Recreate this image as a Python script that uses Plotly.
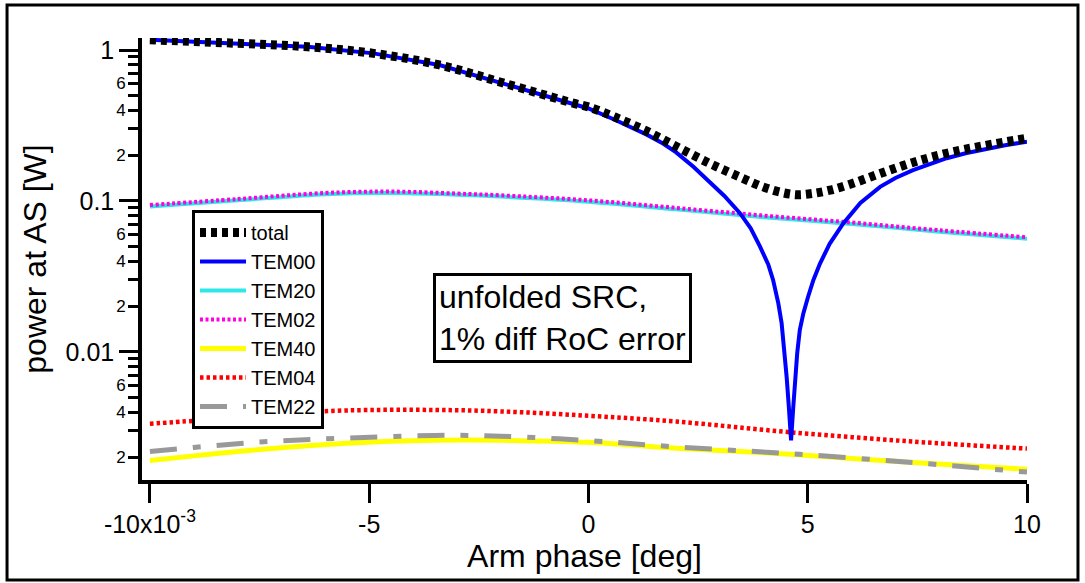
import plotly.graph_objects as go

# ---------------- data ----------------
x_total = [-10, -8, -6.4, -4.9, -3.4, -1.9, -0.35, 0, 0.6, 1.33, 2.1, 2.84, 3.5,
           3.98, 4.4, 4.75, 5.1, 5.51, 6.0, 6.65, 7.4, 8.17, 9.0, 10]
y_total = [1.17, 1.107, 1.05, 0.95, 0.796, 0.60, 0.445, 0.42, 0.36, 0.29, 0.222,
           0.173, 0.142, 0.124, 0.114, 0.110, 0.112, 0.118, 0.13, 0.152, 0.18,
           0.207, 0.232, 0.26]

x_tem00 = [-10, -8, -6.4, -4.9, -3.4, -1.9, -0.35, 0, 0.6, 1.0, 1.33, 1.7, 2.0,
           2.4, 2.69, 3.1, 3.455, 3.7, 3.91, 4.1, 4.21, 4.33, 4.405, 4.47, 4.52,
           4.57, 4.62, 4.67, 4.71, 4.76, 4.82, 4.9, 5.01, 5.13, 5.28, 5.5, 5.81,
           6.2, 6.65, 7.0, 7.4, 7.8, 8.17, 8.6, 9.0, 9.5, 10]
y_tem00 = [1.17, 1.107, 1.05, 0.95, 0.795, 0.595, 0.44, 0.41, 0.345, 0.305, 0.275,
           0.24, 0.21, 0.168, 0.14, 0.108, 0.083, 0.066, 0.05, 0.038, 0.030, 0.021,
           0.0155, 0.0105, 0.0068, 0.0043, 0.0026, 0.0043, 0.0066, 0.0098, 0.014,
           0.018, 0.0233, 0.030, 0.0385, 0.052, 0.071, 0.097, 0.124, 0.142, 0.16,
           0.177, 0.192, 0.207, 0.22, 0.234, 0.247]

x_hom = [-10, -8, -6, -4.5, -3, -2, 0, 2, 4, 6, 8, 10]
y_tem02 = [0.094, 0.103, 0.113, 0.1155, 0.112, 0.109, 0.101, 0.090, 0.080,
           0.072, 0.064, 0.0575]
y_tem20 = [0.092, 0.101, 0.111, 0.113, 0.110, 0.107, 0.099, 0.088, 0.078,
           0.0705, 0.0625, 0.0563]

x_low = [-10, -9, -8, -7, -5.5, -3.5, -2, 0, 2, 4.6, 7.4, 10]
y_tem04 = [0.00335, 0.0035, 0.0037, 0.0039, 0.0041, 0.00413, 0.00404, 0.00378,
           0.00346, 0.00294, 0.00255, 0.00229]
y_tem40 = [0.00191, 0.00205, 0.00219, 0.00232, 0.00249, 0.0026, 0.0026, 0.00252,
           0.0023, 0.0021, 0.00185, 0.00167]
y_tem22 = [0.00219, 0.00233, 0.00247, 0.00258, 0.00269, 0.0028, 0.00277, 0.00259,
           0.00235, 0.00212, 0.00185, 0.0016]

x_ticks = [-10, -5, 0, 5, 10]
x_ticktext = ["-10x10<sup>-3</sup>", "-5", "0", "5", "10"]
y_major = [0.01, 0.1, 1]
y_major_text = ["0.01", "0.1", "1"]
y_minor_lab = [0.002, 0.004, 0.006, 0.02, 0.04, 0.06, 0.2, 0.4, 0.6]
y_minor_lab_text = ["2", "4", "6", "2", "4", "6", "2", "4", "6"]
y_minor = [m * d for d in (0.001, 0.01, 0.1) for m in range(2, 10)]

FONT = "Liberation Sans, Arial, Helvetica, sans-serif"

fig = go.Figure()

fig.add_trace(go.Scatter(x=x_hom, y=y_tem20, name="TEM20", mode="lines",
                         line=dict(color="#2EE8E8", width=4, shape="spline"),
                         legendrank=3))
fig.add_trace(go.Scatter(x=x_hom, y=y_tem02, name="TEM02", mode="lines",
                         line=dict(color="#FF00E0", width=4, dash="3px,2.5px",
                                   shape="spline"),
                         legendrank=4))
fig.add_trace(go.Scatter(x=x_low, y=y_tem40, name="TEM40", mode="lines",
                         line=dict(color="#FFFF00", width=5, shape="spline"),
                         legendrank=5))
fig.add_trace(go.Scatter(x=x_low, y=y_tem04, name="TEM04", mode="lines",
                         line=dict(color="#FF0000", width=4.5, dash="3.5px,3px",
                                   shape="spline"),
                         legendrank=6))
fig.add_trace(go.Scatter(x=x_low, y=y_tem22, name="TEM22", mode="lines",
                         line=dict(color="#999999", width=5,
                                   dash="27px,16px,8px,16px", shape="spline"),
                         legendrank=7))
fig.add_trace(go.Scatter(x=x_tem00, y=y_tem00, name="TEM00", mode="lines",
                         line=dict(color="#0000FF", width=4),
                         legendrank=2))
fig.add_trace(go.Scatter(x=x_total, y=y_total, name="total", mode="lines",
                         line=dict(color="#000000", width=9, dash="6px,5px",
                                   shape="spline"),
                         legendrank=1))
# carrier for the labelled minor-tick axis
fig.add_trace(go.Scatter(x=[None], y=[None], yaxis="y2", showlegend=False,
                         hoverinfo="skip"))

yrange = [-2.848, 0.0795]

fig.update_layout(
    width=1085, height=583,
    margin=dict(l=142, r=58, t=38, b=103),
    paper_bgcolor="white", plot_bgcolor="white",
    font=dict(family=FONT, color="black"),
    showlegend=True,
    xaxis=dict(range=[-10.18, 10], showline=True, linewidth=3.5, linecolor="black",
               ticks="outside", ticklen=19, tickwidth=3, tickcolor="black",
               tickvals=x_ticks, ticktext=x_ticktext, tickfont=dict(size=25),
               showgrid=False, zeroline=False,
               title=dict(text="Arm phase [deg]", font=dict(size=32), standoff=4)),
    yaxis=dict(type="log", range=yrange, showline=True, linewidth=3.5,
               linecolor="black", ticks="outside", ticklen=19, tickwidth=3,
               tickcolor="black", tickvals=y_major, ticktext=y_major_text,
               tickfont=dict(size=25), showgrid=False, zeroline=False,
               minor=dict(tickmode="array", tickvals=y_minor, ticks="outside",
                          ticklen=10, tickwidth=3, tickcolor="black",
                          showgrid=False),
               title=dict(text="power at AS [W]", font=dict(size=32), standoff=10)),
    yaxis2=dict(type="log", range=yrange, overlaying="y", side="left",
                showline=False, ticks="outside", ticklen=12, tickwidth=3,
                tickcolor="black", tickvals=y_minor_lab, ticktext=y_minor_lab_text,
                tickfont=dict(size=17), showgrid=False, zeroline=False),
    legend=dict(x=0.0565, y=0.611, xanchor="left", yanchor="top",
                bgcolor="white", bordercolor="black", borderwidth=3,
                font=dict(size=20), tracegroupgap=0, itemwidth=46),
    annotations=[dict(x=0.4746, y=0.3665, xref="paper", yref="paper",
                      xanchor="center", yanchor="middle", showarrow=False,
                      align="left", text="unfolded SRC,<br>1% diff RoC error",
                      font=dict(size=32), bordercolor="black", borderwidth=3,
                      borderpad=3, bgcolor="white")],
    shapes=[dict(type="rect", xref="paper", yref="paper",
                 x0=-0.1525, x1=1.0576, y0=-0.2262, y1=1.0747,
                 line=dict(color="black", width=3))],
)

fig.write_html("out.html")
